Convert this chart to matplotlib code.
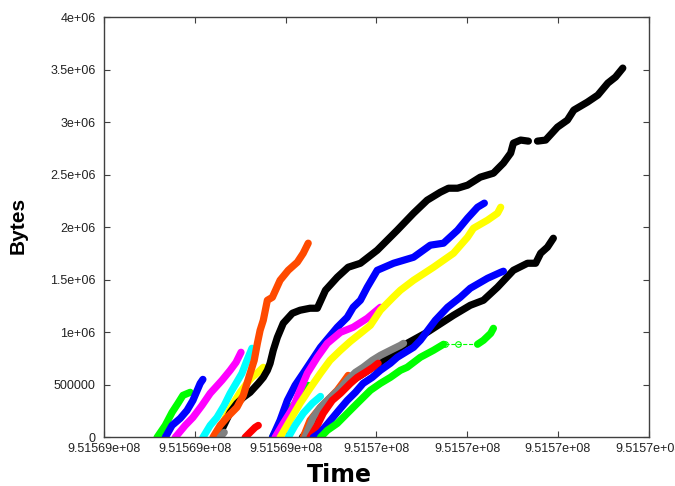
import numpy as np
import matplotlib
matplotlib.use('Agg')
import matplotlib.pyplot as plt
from matplotlib.ticker import FixedLocator, FormatStrFormatter

t0 = 951569000  # seconds

# left group of flows (time offset in s, bytes)
green_a_t = [117, 135, 150, 163, 174, 190]
green_a_b = [0, 114e3, 238e3, 324e3, 400e3, 429e3]

blue_a_t = [135, 150, 168, 183, 196, 212, 218]
blue_a_b = [0, 114e3, 181e3, 257e3, 352e3, 514e3, 552e3]

magenta_a_t = [157, 179, 196, 216, 234, 260, 278, 291, 302]
magenta_a_b = [0, 114e3, 190e3, 305e3, 419e3, 543e3, 638e3, 714e3, 810e3]

cyan_a_t = [218, 234, 249, 265, 278, 291, 304, 315, 326]
cyan_a_b = [0, 114e3, 190e3, 305e3, 419e3, 514e3, 610e3, 733e3, 848e3]

yellow_a_t = [251, 267, 285, 300, 315, 326, 337, 351]
yellow_a_b = [19e3, 181e3, 324e3, 429e3, 514e3, 571e3, 610e3, 667e3]

black_a_t = [245, 262, 278, 293, 307, 322, 340, 351, 360, 366, 373, 382, 395,
             415, 432, 454, 470, 488, 514, 538, 565, 602, 646, 682, 712, 741,
             759, 779, 801, 829, 858, 880, 896, 902, 918, 935, np.nan,
             955, 973, 999, 1021, 1035, 1065, 1088, 1110, 1127, 1143]
black_a_b = [0, 95e3, 238e3, 324e3, 381e3, 429e3, 514e3, 571e3, 638e3, 705e3,
             829e3, 952e3, 1086e3, 1181e3, 1210e3, 1229e3, 1229e3, 1400e3,
             1524e3, 1619e3, 1657e3, 1781e3, 1971e3, 2133e3, 2257e3, 2333e3,
             2371e3, 2371e3, 2400e3, 2476e3, 2514e3, 2610e3, 2705e3, 2800e3,
             2829e3, 2819e3, np.nan,
             2819e3, 2829e3, 2952e3, 3019e3, 3114e3, 3190e3, 3257e3, 3371e3,
             3429e3, 3514e3]

orange_a_t = [240, 256, 271, 293, 307, 322, 331, 338, 344, 351, 360, 371, 388,
              406, 426, 439, 450]
orange_a_b = [0, 114e3, 190e3, 286e3, 400e3, 610e3, 733e3, 895e3, 1019e3,
              1114e3, 1305e3, 1333e3, 1495e3, 1590e3, 1667e3, 1752e3, 1848e3]

gray_a_t = [256, 265]
gray_a_b = [0, 48e3]

red_a_t = [311, 322, 333, 340]
red_a_b = [0, 48e3, 95e3, 114e3]

# right group
green_b_t = [371, 399, 432, 450]
green_b_b = [0, 210e3, 381e3, 495e3]

blue_b_t = [371, 388, 404, 421, 439, 477, 514, 536, 549, 565, 580, 602, 638,
            682, 719, 748, 779, 801, 823, 838]
blue_b_b = [0, 162e3, 352e3, 495e3, 610e3, 857e3, 1048e3, 1143e3, 1238e3,
            1305e3, 1429e3, 1590e3, 1657e3, 1714e3, 1829e3, 1848e3, 1971e3,
            2086e3, 2190e3, 2229e3]

magenta_b_t = [377, 395, 417, 432, 448, 470, 492, 521, 549, 580, 609]
magenta_b_b = [0, 133e3, 286e3, 448e3, 610e3, 762e3, 895e3, 1000e3, 1048e3,
               1133e3, 1238e3]

yellow_b_t = [388, 410, 432, 454, 477, 498, 521, 543, 565, 587, 609, 637, 653,
              682, 726, 770, 801, 814, 845, 867, 874]
yellow_b_b = [0, 162e3, 324e3, 467e3, 610e3, 733e3, 829e3, 914e3, 990e3,
              1067e3, 1210e3, 1333e3, 1400e3, 1495e3, 1619e3, 1752e3, 1905e3,
              1990e3, 2067e3, 2133e3, 2190e3]

cyan_b_t = [406, 421, 439, 459, 477]
cyan_b_b = [0, 114e3, 229e3, 324e3, 390e3]

black_b_t = [437, 450, 461, 477, 499, 521, 536, 565, 609, 660, 712, 770, 807,
             836, 867, 902, 933, 951, 962, 977, 990]
black_b_b = [0, 67e3, 133e3, 257e3, 352e3, 448e3, 514e3, 590e3, 714e3, 876e3,
             1000e3, 1162e3, 1257e3, 1305e3, 1429e3, 1590e3, 1657e3, 1657e3,
             1752e3, 1810e3, 1895e3]

orange_b_t = [439, 454, 477, 499, 514, 527, 538]
orange_b_b = [0, 162e3, 286e3, 381e3, 448e3, 524e3, 590e3]

gray_b_t = [443, 454, 461, 477, 499, 521, 536, 554, 571, 591, 609, 631, 653, 660]
gray_b_b = [0, 114e3, 190e3, 286e3, 381e3, 467e3, 543e3, 619e3, 667e3, 733e3,
            781e3, 829e3, 876e3, 895e3]

red_b_t = [454, 470, 483, 503, 521, 543, 558, 576, 593, 604]
red_b_b = [0, 114e3, 229e3, 352e3, 419e3, 514e3, 571e3, 619e3, 667e3, 705e3]

blue_c_t = [461, 477, 499, 521, 536, 554, 571, 591, 609, 631, 646, 682, 697,
            730, 757, 785, 807, 845, 874, 880]
blue_c_b = [0, 48e3, 162e3, 276e3, 352e3, 429e3, 514e3, 571e3, 638e3, 705e3,
            762e3, 857e3, 924e3, 1114e3, 1238e3, 1333e3, 1419e3, 1514e3,
            1571e3, 1581e3]

green_c_t = [477, 492, 514, 536, 558, 587, 609, 631, 653, 668, 697, 726, 748,
             np.nan, 823, 836, 852, 858]
green_c_b = [0, 67e3, 133e3, 229e3, 324e3, 448e3, 514e3, 571e3, 638e3, 667e3,
             762e3, 829e3, 886e3, np.nan, 886e3, 924e3, 990e3, 1038e3]

green_gap_t = [752, 779, 823]
green_gap_b = [886e3, 886e3, 886e3]

xticks = [t0 + s for s in range(0, 1201, 200)]
yticks = np.arange(0, 4.0e6 + 1, 5e5)

series = [
    (green_a_t, green_a_b, '#00ff00'),
    (blue_a_t, blue_a_b, '#0000ff'),
    (magenta_a_t, magenta_a_b, '#ff00ff'),
    (cyan_a_t, cyan_a_b, '#00ffff'),
    (yellow_a_t, yellow_a_b, '#ffff00'),
    (black_a_t, black_a_b, '#000000'),
    (orange_a_t, orange_a_b, '#ff4a00'),
    (gray_a_t, gray_a_b, '#808080'),
    (red_a_t, red_a_b, '#ff0000'),
    (green_b_t, green_b_b, '#00ff00'),
    (blue_b_t, blue_b_b, '#0000ff'),
    (magenta_b_t, magenta_b_b, '#ff00ff'),
    (yellow_b_t, yellow_b_b, '#ffff00'),
    (cyan_b_t, cyan_b_b, '#00ffff'),
    (black_b_t, black_b_b, '#000000'),
    (orange_b_t, orange_b_b, '#ff4a00'),
    (gray_b_t, gray_b_b, '#808080'),
    (red_b_t, red_b_b, '#ff0000'),
    (blue_c_t, blue_c_b, '#0000ff'),
    (green_c_t, green_c_b, '#00ff00'),
]

fig = plt.figure(figsize=(6.75, 4.86), dpi=100)
ax = fig.add_axes([0.154, 0.1, 0.807, 0.865])

for t, b, c in series:
    ax.plot(t0 + np.array(t, dtype=float), b, color=c, lw=5.2,
            solid_capstyle='round', solid_joinstyle='round')

ax.plot(t0 + np.array(green_gap_t, dtype=float), green_gap_b, color='#00ff00',
        lw=0.8, ls='--', marker='o', ms=4, mfc='none', mew=0.8,
        markevery=[0, 1])

ax.set_xlim(xticks[0], xticks[-1])
ax.set_ylim(0, 4e6)
ax.xaxis.set_major_locator(FixedLocator(xticks))
ax.yaxis.set_major_locator(FixedLocator(yticks))
ax.xaxis.set_major_formatter(FormatStrFormatter('%g'))
ax.yaxis.set_major_formatter(FormatStrFormatter('%g'))

for s in ax.spines.values():
    s.set_color('#404040')
    s.set_linewidth(1.0)
ax.tick_params(direction='in', length=4, width=0.8, color='#404040',
               top=True, right=True, labelsize=9, pad=6)
ax.tick_params(axis='x', pad=4)
for lab in ax.get_xticklabels() + ax.get_yticklabels():
    lab.set_family(['Liberation Sans', 'DejaVu Sans'])
    lab.set_color('#222222')

ax.set_xlabel('Time', fontsize=17, fontweight='heavy', family=['DejaVu Sans'])
ax.xaxis.set_label_coords(0.433, -0.062)
ax.set_ylabel('Bytes', fontsize=15, fontweight='bold',
              family=['Liberation Sans Narrow', 'Liberation Sans'])
ax.yaxis.label.set_va('center')
ax.yaxis.set_label_coords(-0.158, 0.505)

fig.savefig('out.png', dpi=100)
